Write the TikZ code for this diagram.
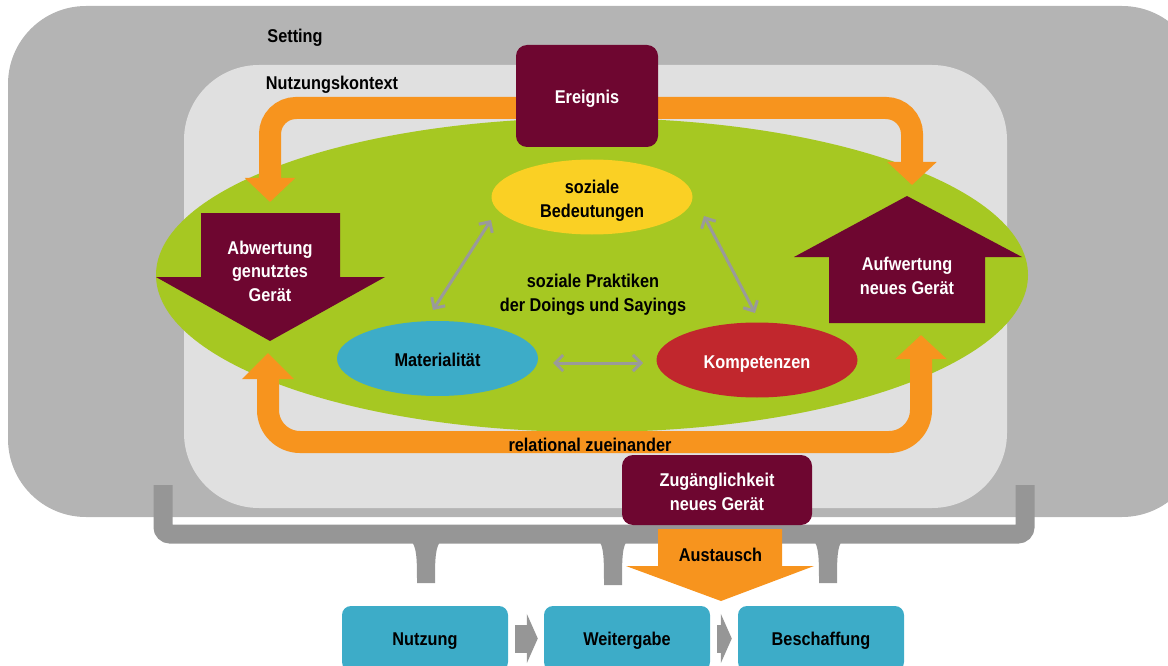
\documentclass[tikz,border=0pt]{standalone}
\usepackage{fontspec}
\setmainfont{Liberation Sans}[FakeStretch=0.88]
\usetikzlibrary{shapes.geometric,arrows.meta}
\definecolor{setgray}{HTML}{B4B4B4}
\definecolor{ctxgray}{HTML}{E0E0E0}
\definecolor{pgreen}{HTML}{A6C822}
\definecolor{porange}{HTML}{F7941E}
\definecolor{maroon}{HTML}{6E0630}
\definecolor{pyellow}{HTML}{FAD024}
\definecolor{pblue}{HTML}{3DACC8}
\definecolor{pred}{HTML}{C1272D}
\definecolor{agray}{HTML}{9A9A9A}
\definecolor{bgray}{HTML}{969696}
\newcommand\dlab{\fontsize{18.5pt}{23.5pt}\selectfont\bfseries}
\begin{document}
\begin{tikzpicture}[x=1pt,y=-1pt,
  lbl/.style={font=\dlab, align=center, inner sep=0pt, anchor=base},
  ell/.style={ellipse, minimum width=201pt, minimum height=75pt, inner sep=0pt, font=\dlab, align=center},
  mbox/.style={fill=maroon, rounded corners=11pt, text=white, font=\dlab, align=center, inner sep=0pt},
  bbox/.style={fill=pblue, rounded corners=9pt, font=\dlab, minimum width=166pt, minimum height=65pt, inner sep=0pt, text height=13pt, text depth=0pt},
  oband/.style={draw=porange, line width=22pt, rounded corners=26pt},
  garrow/.style={draw=agray, line width=3pt, arrows={Straight Barb[length=8pt,width=16pt]-Straight Barb[length=8pt,width=16pt]}},
  chev/.style={draw=bgray, line width=28pt, arrows={-Triangle[width=49pt,length=11pt]}, shorten <=7pt, shorten >=6pt},
  stem/.style={fill=bgray}
]
\useasboundingbox (0,0) rectangle (1168,666);
\clip (0,0) rectangle (1168,666);

% Setting and context
\fill[setgray, rounded corners=78pt] (8,6) rectangle (1200,517);
\fill[ctxgray, rounded corners=75pt] (184,65) rectangle (1007,508);
\node[lbl] (setting) at (295,42.5) {Setting};
\node[lbl] (kontext) at (332,90) {Nutzungskontext};

% practice ellipse
\node[ellipse, fill=pgreen, minimum width=872pt, minimum height=314pt, inner sep=0pt] (praxis) at (592,275) {};

% orange cycle
\coordinate (eband) at (587,108);
\coordinate (abwtip) at (270,202);
\coordinate (aufwtip) at (912,185);
\coordinate (lbtip) at (268,353);
\coordinate (rbtip) at (921,335);
\draw[oband, arrows={-Triangle[width=49pt,length=24pt]}] (eband) -- (270,108) -- (abwtip);
\draw[oband, arrows={-Triangle[width=48pt,length=23pt]}] (eband) -- (912,108) -- (aufwtip);
\draw[oband, rounded corners=32pt, arrows={Triangle[width=50pt,length=26pt]-Triangle[width=50pt,length=24pt]}] (lbtip) -- (268,442) -- (921,442) -- (rbtip);
\node[lbl] (rel) at (590,451) {relational zueinander};

\node[mbox, minimum width=142pt, minimum height=102pt, text height=16pt, text depth=0pt] (ereignis) at (587,96) {Ereignis};

% block arrows
\fill[maroon] (201,213) -- (340,213) -- (340,277) -- (385,277) -- (270,341) -- (156,277) -- (201,277) -- cycle;
\node[lbl, text=white] (abw) at (270,301) {Abwertung\\genutztes\\Gerät};
\fill[maroon] (907,196) -- (1022,257) -- (985,257) -- (985,323) -- (829,323) -- (829,257) -- (794,257) -- cycle;
\node[lbl, text=white] (aufw) at (907,294) {Aufwertung\\neues Gerät};

% elements of practice
\node[ell, fill=pyellow, text height=40pt, text depth=0pt] (bed) at (592,197) {soziale\\Bedeutungen};
\node[ell, fill=pblue, text height=16pt, text depth=0pt] (mat) at (437.5,358.5) {Materialität};
\node[ell, fill=pred, text=white, text height=16pt, text depth=0pt] (komp) at (757,360) {Kompetenzen};
\node[lbl] (prakt) at (593,311) {soziale Praktiken\\der Doings und Sayings};

\coordinate (g1a) at (433,310); \coordinate (g1b) at (491,220);
\coordinate (g2a) at (704,216); \coordinate (g2b) at (755,313);
\coordinate (g3a) at (553,363); \coordinate (g3b) at (643,363);
\draw[garrow] (g1a) -- (g1b);
\draw[garrow] (g2a) -- (g2b);
\draw[garrow] (g3a) -- (g3b);

% bracket
\draw[bgray, line width=19pt, rounded corners=7pt] (163,485) -- (163,534) -- (1025,534) -- (1025,485);
\fill[stem] (410,540) .. controls (417,545) and (417,560) .. (417,583) -- (435,583) .. controls (435,560) and (435,545) .. (442,540) -- cycle;
\fill[stem] (598,540) .. controls (604,545) and (604,560) .. (604,585) -- (622,585) .. controls (622,560) and (622,545) .. (628,540) -- cycle;
\fill[stem] (813,540) .. controls (819,545) and (819,560) .. (819,583) -- (837,583) .. controls (837,560) and (837,545) .. (843,540) -- cycle;

\node[mbox, minimum width=190pt, minimum height=70pt, text height=40pt, text depth=0pt] (zug) at (717,490) {Zugänglichkeit\\neues Gerät};

\fill[porange] (658,529) -- (782,529) -- (782,566) -- (814,566) -- (721,601) -- (626,566) -- (658,566) -- cycle;
\node[lbl] (aust) at (720.5,561) {Austausch};

% sequence
\node[bbox] (nutz) at (425,638.5) {Nutzung};
\node[bbox] (weit) at (627,638.5) {Weitergabe};
\node[bbox] (besch) at (821,638.5) {Beschaffung};
\draw[chev] (nutz) -- (weit);
\draw[chev] (weit) -- (besch);
\end{tikzpicture}
\end{document}
